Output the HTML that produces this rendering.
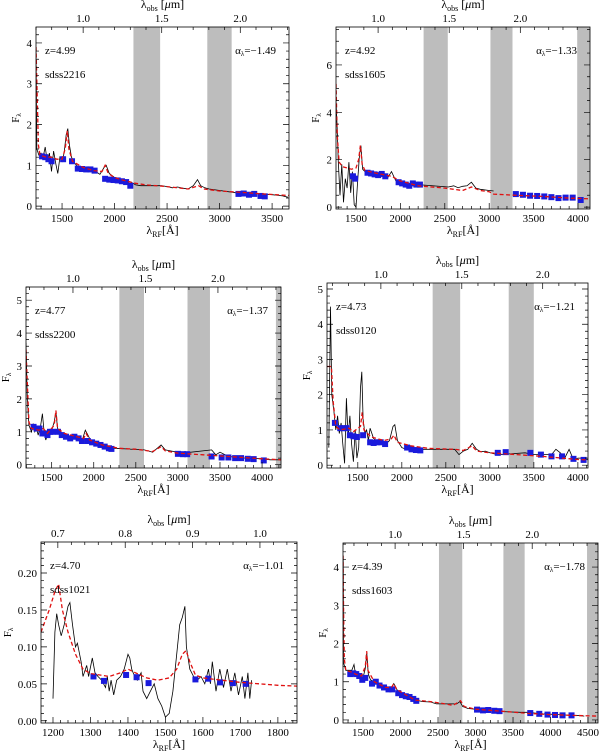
<!DOCTYPE html>
<html><head><meta charset="utf-8"><style>
html,body{margin:0;padding:0;background:#fff;}
svg{display:block;font-family:"Liberation Serif","DejaVu Serif",serif;}
</style></head><body>
<svg id="fig" width="600" height="753" viewBox="0 0 600 753" xmlns="http://www.w3.org/2000/svg"></svg>
<script>
// ---------- data (rest wavelength Å, flux) ----------
const p1Spec=[[1252,3.9],[1260,1.4],[1280,1.25],[1300,1.3],[1320,1.2],[1340,1.45],[1360,1.1],[1380,1.3],[1400,0.85],[1420,1.35],[1440,1.05],[1460,0.8],[1480,1.2],[1500,1.1],[1520,1.3],[1540,1.75],[1555,1.9],[1570,1.5],[1590,1.2],[1620,1.05],[1660,0.95],[1700,0.93],[1740,0.9],[1780,0.88],[1820,0.85],[1860,0.78],[1900,0.95],[1920,1.0],[1950,0.8],[2000,0.7],[2050,0.65],[2100,0.62],[2150,0.6],[2200,0.52],[2250,0.5],[2450,0.5],[2500,0.48],[2550,0.45],[2600,0.47],[2650,0.44],[2700,0.42],[2750,0.5],[2790,0.65],[2820,0.5],[2860,0.45],[2900,0.42],[3150,0.33],[3250,0.32],[3400,0.3],[3500,0.28],[3600,0.25],[3650,0.22]];
const p1Model=[[1252,3.9],[1262,2.8],[1275,1.5],[1290,1.25],[1350,1.2],[1400,1.2],[1450,1.15],[1500,1.15],[1530,1.4],[1550,1.85],[1565,1.4],[1600,1.1],[1700,0.95],[1800,0.87],[1880,0.85],[1910,1.0],[1940,0.8],[2000,0.7],[2100,0.62],[2200,0.56],[2300,0.52],[2400,0.5],[2500,0.48],[2600,0.45],[2700,0.42],[2800,0.5],[2850,0.42],[3000,0.37],[3200,0.34],[3400,0.3],[3600,0.27],[3660,0.26]];
const p1Phot=[[1310,1.22],[1340,1.2],[1370,1.15],[1400,1.1],[1510,1.15],[1595,1.1],[1650,0.92],[1690,0.91],[1730,0.9],[1770,0.9],[1810,0.87],[1910,0.67],[1950,0.65],[1990,0.64],[2030,0.63],[2070,0.61],[2110,0.59],[2150,0.5],[3180,0.3],[3230,0.31],[3280,0.28],[3330,0.3],[3390,0.25],[3430,0.24]];

const p2Spec=[[1275,4.5],[1290,3.2],[1300,2.0],[1320,0.5],[1340,1.8],[1360,0.2],[1380,1.2],[1400,0.8],[1420,1.9],[1440,0.6],[1460,1.5],[1480,0.1],[1500,0],[1520,1.2],[1540,2.2],[1555,2.6],[1575,1.6],[1600,1.5],[1650,1.4],[1700,1.5],[1750,1.3],[1800,1.4],[1850,1.2],[1900,1.5],[1950,1.1],[2000,1.0],[2050,1.05],[2100,0.95],[2150,1.0],[2200,0.95],[2540,0.85],[2600,0.9],[2650,0.82],[2700,0.88],[2750,0.9],[2800,1.05],[2850,0.8],[2900,0.75],[3000,0.7],[3050,0.68]];
const p2Model=[[1275,5.2],[1290,3.0],[1310,1.9],[1350,1.7],[1450,1.6],[1500,1.65],[1530,2.0],[1550,2.6],[1570,1.8],[1600,1.55],[1700,1.45],[1900,1.3],[2000,1.1],[2200,0.9],[2500,0.8],[2700,0.7],[2800,0.85],[2900,0.7],[3000,0.65],[3050,0.55],[3300,0.5],[3600,0.45],[3900,0.38],[4135,0.35]];
const p2Phot=[[1466,1.3],[1490,1.2],[1630,1.45],[1670,1.42],[1710,1.38],[1750,1.35],[1790,1.4],[1830,1.3],[1980,1.05],[2020,1.0],[2060,0.95],[2100,0.9],[2140,1.0],[2180,0.95],[2220,0.95],[3300,0.55],[3380,0.52],[3460,0.48],[3540,0.47],[3620,0.45],[3700,0.42],[3780,0.38],[3860,0.4],[3940,0.4],[4030,0.3]];

const p3Spec=[[1195,3.7],[1210,2.0],[1230,1.2],[1260,1.0],[1280,1.25],[1300,1.0],[1320,1.1],[1340,0.9],[1370,1.2],[1390,1.55],[1410,1.0],[1430,0.75],[1460,1.0],[1500,1.05],[1530,1.3],[1550,1.6],[1570,1.1],[1600,1.0],[1700,0.85],[1800,0.8],[1870,0.8],[1900,1.05],[1930,0.9],[1960,0.75],[2000,0.7],[2100,0.62],[2200,0.55],[2250,0.5],[2600,0.45],[2700,0.38],[2800,0.6],[2850,0.45],[2950,0.4],[3050,0.35],[3400,0.45],[3450,0.3],[3500,0.38],[3600,0.25],[3800,0.2],[4000,0.18],[4100,0.15],[4225,0.15]];
const p3Model=[[1195,3.5],[1210,2.5],[1230,1.3],[1260,1.1],[1350,1.05],[1400,1.1],[1450,0.95],[1530,1.2],[1550,1.65],[1570,1.1],[1650,0.95],[1800,0.85],[1880,0.8],[1910,0.95],[1950,0.75],[2100,0.6],[2300,0.5],[2500,0.47],[2700,0.4],[2800,0.55],[2850,0.42],[3000,0.35],[3300,0.3],[3600,0.25],[4000,0.18],[4225,0.15]];
const p3Phot=[[1285,1.15],[1320,1.1],[1355,1.1],[1390,0.95],[1420,0.95],[1450,0.9],[1480,1.0],[1510,1.0],[1575,1.0],[1620,0.9],[1670,0.85],[1720,0.8],[1770,0.85],[1820,0.8],[1860,0.72],[1930,0.72],[1980,0.68],[2030,0.64],[2080,0.6],[2130,0.55],[2180,0.5],[2210,0.48],[3000,0.33],[3060,0.32],[3110,0.32],[3400,0.25],[3520,0.22],[3600,0.22],[3680,0.2],[3750,0.2],[3830,0.18],[3900,0.17],[4020,0.13]];

const p4Spec=[[1170,0.5],[1190,4.5],[1205,2.0],[1230,1.5],[1250,1.0],[1270,1.4],[1290,0.9],[1310,1.2],[1330,0.6],[1350,0.05],[1370,1.9],[1390,0.8],[1410,1.4],[1430,0.6],[1450,0.1],[1470,1.0],[1490,0.2],[1510,0.5],[1530,2.2],[1545,2.65],[1560,1.3],[1580,0.9],[1600,1.0],[1620,0.7],[1640,1.05],[1680,0.75],[1750,0.65],[1820,0.6],[1860,0.7],[1900,1.1],[1920,1.15],[1950,0.7],[2000,0.5],[2050,0.45],[2100,0.55],[2150,0.45],[2200,0.4],[2250,0.45],[2300,0.45],[2600,0.45],[2650,0.3],[2700,0.4],[2750,0.45],[2800,0.62],[2850,0.45],[2900,0.38],[2950,0.4],[3000,0.35],[3050,0.32],[3100,0.3],[3400,0.35],[3500,0.3],[3600,0.3],[3700,0.3],[3750,0.45],[3800,0.35],[3850,0.2],[3900,0.45],[3950,0.15],[4000,0.2],[4050,0.2],[4115,0.15]];
const p4Model=[[1150,2.8],[1200,2.8],[1220,1.8],[1250,1.1],[1300,1.0],[1400,1.05],[1450,0.95],[1530,1.1],[1550,1.5],[1570,1.0],[1650,0.8],[1800,0.7],[1880,0.75],[1910,0.85],[1950,0.65],[2100,0.55],[2300,0.48],[2600,0.45],[2700,0.42],[2800,0.55],[2850,0.4],[3000,0.35],[3300,0.3],[3600,0.25],[4000,0.16],[4115,0.15]];
const p4Phot=[[1240,1.2],[1300,1.05],[1340,1.05],[1375,1.05],[1410,0.85],[1450,0.82],[1490,0.8],[1560,0.85],[1640,0.65],[1680,0.63],[1720,0.65],[1760,0.65],[1810,0.6],[2060,0.5],[2110,0.45],[2160,0.43],[2210,0.42],[3090,0.35],[3180,0.37],[3460,0.35],[3580,0.3],[3700,0.25],[3820,0.25],[3950,0.18],[4065,0.15]];

const p5Spec=[[1200,0.03],[1205,0.12],[1210,0.145],[1215,0.13],[1222,0.115],[1230,0.13],[1240,0.155],[1245,0.16],[1252,0.13],[1260,0.1],[1265,0.105],[1275,0.08],[1280,0.06],[1290,0.075],[1295,0.06],[1305,0.085],[1312,0.065],[1320,0.06],[1330,0.055],[1340,0.045],[1345,0.06],[1350,0.04],[1355,0.055],[1362,0.035],[1370,0.055],[1380,0.06],[1390,0.07],[1400,0.09],[1405,0.085],[1410,0.07],[1418,0.06],[1425,0.055],[1435,0.065],[1440,0.04],[1450,0.03],[1460,0.04],[1470,0.05],[1480,0.03],[1490,0.02],[1500,0.005],[1510,0.01],[1520,0.04],[1530,0.09],[1538,0.13],[1545,0.14],[1552,0.155],[1556,0.1],[1565,0.07],[1575,0.06],[1585,0.055],[1595,0.06],[1605,0.05],[1615,0.07],[1620,0.05],[1625,0.08],[1635,0.04],[1645,0.07],[1655,0.045],[1665,0.07],[1675,0.04],[1685,0.065],[1695,0.035],[1705,0.06],[1712,0.03],[1720,0.065],[1725,0.03],[1730,0.055]];
const p5Model=[[1168,0.12],[1190,0.15],[1205,0.175],[1215,0.185],[1225,0.15],[1240,0.12],[1260,0.09],[1280,0.07],[1300,0.064],[1350,0.06],[1380,0.065],[1400,0.07],[1420,0.065],[1450,0.058],[1480,0.055],[1510,0.058],[1530,0.07],[1545,0.09],[1555,0.095],[1565,0.08],[1580,0.062],[1600,0.058],[1650,0.055],[1700,0.052],[1750,0.05],[1800,0.048],[1851,0.047]];
const p5Phot=[[1308,0.06],[1336,0.054],[1395,0.062],[1423,0.059],[1455,0.051],[1580,0.056],[1614,0.057],[1646,0.052],[1680,0.051],[1714,0.05]];

const p6Spec=[[1236,4.3],[1240,1.5],[1255,1.4],[1270,1.3],[1300,1.3],[1350,1.3],[1380,1.45],[1400,1.2],[1450,1.15],[1500,1.1],[1530,1.35],[1550,1.75],[1570,1.2],[1600,1.05],[1700,0.95],[1800,0.82],[1880,0.85],[1910,0.95],[1950,0.8],[2000,0.65],[2100,0.6],[2200,0.52],[2300,0.48],[2400,0.47],[2480,0.42],[2750,0.42],[2790,0.48],[2830,0.35],[2900,0.3],[3000,0.28],[3100,0.26],[3200,0.25],[3300,0.22],[3600,0.2],[3700,0.2],[3800,0.18],[3900,0.16],[4000,0.15],[4100,0.14],[4200,0.13],[4300,0.12],[4400,0.11],[4450,0.1]];
const p6Model=[[1233,4.3],[1240,3.0],[1250,1.6],[1270,1.3],[1350,1.25],[1400,1.2],[1480,1.15],[1530,1.4],[1549,1.8],[1565,1.3],[1650,1.0],[1800,0.85],[1880,0.85],[1910,0.95],[1950,0.8],[2100,0.62],[2200,0.52],[2400,0.48],[2600,0.42],[2700,0.38],[2800,0.5],[2850,0.35],[3000,0.28],[3400,0.22],[3700,0.17],[4000,0.14],[4300,0.12],[4633,0.1]];
const p6Phot=[[1330,1.2],[1370,1.22],[1410,1.2],[1450,1.15],[1490,1.05],[1530,1.1],[1620,0.95],[1670,1.0],[1720,0.9],[1780,0.85],[1840,0.8],[1890,0.8],[1970,0.7],[2020,0.65],[2070,0.62],[2120,0.6],[2170,0.55],[2210,0.5],[3020,0.27],[3100,0.25],[3170,0.26],[3250,0.24],[3320,0.23],[3730,0.18],[3850,0.16],[3960,0.14],[4060,0.13],[4160,0.12],[4280,0.12]];

// atmospheric bands in observed microns
const bandsObs=[[1.32,1.49],[1.79,1.945],[2.40,3.0]];
const redshifts=["4.99","4.92","4.77","4.73","4.70","4.39"];
const objNames=["sdss2216","sdss1605","sdss2200","sdss0120","sdss1021","sdss1603"];
const alphas=["\u22121.49","\u22121.33","\u22121.37","\u22121.21","\u22121.01","\u22121.78"];

const panels=[
 {id:1,box:[36,27,289,209],x:[1252,3661],y:[-0.07,4.39],o:[0.70,2.31],yt:[0,1,2,3,4],ym:0.2,yf:0,xt:500,xm:100,ot:0.5,om:0.1,of:1,spec:p1Spec,model:p1Model,phot:p1Phot},
 {id:2,box:[336,27,590,209],x:[1275,4135],y:[-0.08,7.6],o:[0.704,2.49],yt:[0,2,4,6],ym:0.5,yf:0,xt:500,xm:100,ot:0.5,om:0.1,of:1,spec:p2Spec,model:p2Model,phot:p2Phot},
 {id:3,box:[26,287,281,468],x:[1195,4225],y:[-0.1,5.4],o:[0.676,2.435],yt:[0,1,2,3,4,5],ym:0.2,yf:0,xt:500,xm:100,ot:0.5,om:0.1,of:1,spec:p3Spec,model:p3Model,phot:p3Phot},
 {id:4,box:[327,283,588,468],x:[1150,4115],y:[-0.08,5.17],o:[0.667,2.28],yt:[0,1,2,3,4,5],ym:0.2,yf:0,xt:500,xm:100,ot:0.5,om:0.1,of:1,spec:p4Spec,model:p4Model,phot:p4Phot},
 {id:5,box:[41,542,297,723],x:[1168,1851],y:[-0.003,0.242],o:[0.675,1.055],yt:[0,0.05,0.10,0.15,0.20],ym:0.01,yf:2,xt:100,xm:20,ot:0.1,om:0.02,of:1,spec:p5Spec,model:p5Model,phot:p5Phot,nobands:true},
 {id:6,box:[343,543,598,723],x:[1233,4633],y:[-0.08,4.63],o:[0.62,2.48],yt:[0,1,2,3,4],ym:0.2,yf:0,xt:500,xm:100,ot:0.5,om:0.1,of:1,spec:p6Spec,model:p6Model,phot:p6Phot}
];

const NS="http://www.w3.org/2000/svg";
const svg=document.getElementById('fig');
function mk(tag,attrs,parent){const e=document.createElementNS(NS,tag);for(const k in attrs)e.setAttribute(k,attrs[k]);(parent||svg).appendChild(e);return e;}

panels.forEach((p,i)=>{
 const [x0,y0,x1,y1]=p.box;
 const g=mk('g',{});
 
 
 const sx=v=>x0+(v-p.x[0])/(p.x[1]-p.x[0])*(x1-x0);
 const sy=v=>y1-(v-p.y[0])/(p.y[1]-p.y[0])*(y1-y0);
 const so=v=>x0+(v-p.o[0])/(p.o[1]-p.o[0])*(x1-x0);
 const cp=mk('clipPath',{id:'cp'+p.id},g);
 mk('rect',{x:x0,y:y0,width:x1-x0,height:y1-y0},cp);
 // bands
 if(!p.nobands) bandsObs.forEach((b,k)=>{
   const a=Math.max(so(b[0]),x0),c=Math.min(so(b[1]),x1);
   if(c>a){const r=mk('rect',{x:a,y:y0,width:c-a,height:y1-y0,fill:'#bdbdbd'},g);
   
   }
 });
 const dg=mk('g',{'clip-path':'url(#cp'+p.id+')'},g);
 // spectrum
 const ps=mk('polyline',{points:p.spec.map(d=>sx(d[0]).toFixed(1)+','+sy(d[1]).toFixed(1)).join(' '),fill:'none',stroke:'#000','stroke-width':0.8},dg);
 
 
 // photometry
 p.phot.forEach(d=>{
   const r=mk('rect',{x:sx(d[0])-3,y:sy(d[1])-3,width:6,height:6,fill:'#1a1adc'},dg);
   
   
 });
 // model
 const pm=mk('polyline',{points:p.model.map(d=>sx(d[0]).toFixed(1)+','+sy(d[1]).toFixed(1)).join(' '),fill:'none',stroke:'#e01010','stroke-width':1.3,'stroke-dasharray':'4,2.5'},dg);
 
 
 // frame
 mk('rect',{x:x0,y:y0,width:x1-x0,height:y1-y0,fill:'none',stroke:'#000','stroke-width':0.8},g);
 let tk='';
 // bottom x ticks
 const eps=1e-6;
 for(let v=Math.ceil(p.x[0]/p.xm)*p.xm; v<=p.x[1]; v+=p.xm){
   const X=sx(v); const maj=Math.abs(v/p.xt-Math.round(v/p.xt))<eps; const L=maj?6:3;
   tk+=`M${X},${y1}v${-L}`;
   if(maj){const t=mk('text',{x:X,y:y1+13,'text-anchor':'middle','font-size':11},g);t.textContent=v;
     }
 }
 // top obs ticks
 for(let v=Math.ceil(p.o[0]/p.om-eps)*p.om; v<=p.o[1]+eps; v+=p.om){
   const X=so(v); const maj=Math.abs(v/p.ot-Math.round(v/p.ot))<1e-4; const L=maj?6:3;
   tk+=`M${X},${y0}v${L}`;
   if(maj){const t=mk('text',{x:X,y:y0-5,'text-anchor':'middle','font-size':11},g);t.textContent=v.toFixed(p.of);
     }
 }
 // y ticks
 for(let v=Math.ceil(p.y[0]/p.ym-eps)*p.ym; v<=p.y[1]+eps; v+=p.ym){
   const Y=sy(v); const maj=p.yt.some(t=>Math.abs(t-v)<p.ym/10); const L=maj?6:3;
   tk+=`M${x0},${Y}h${L}M${x1},${Y}h${-L}`;
 }
 p.yt.forEach(v=>{const t=mk('text',{x:x0-4,y:sy(v)+4,'text-anchor':'end','font-size':11},g);t.textContent=v.toFixed(p.yf);
   });
 mk('path',{d:tk,stroke:'#000','stroke-width':0.7,fill:'none'},g);
 const cx=(x0+x1)/2;
 const ot=mk('text',{x:cx,y:y0-19,'text-anchor':'middle','font-size':12},g);
 ot.innerHTML='λ<tspan font-size="8" dy="3">obs</tspan><tspan dy="-3"> [</tspan><tspan font-style="italic">μ</tspan>m]';
 
 const xt=mk('text',{x:cx,y:y1+25,'text-anchor':'middle','font-size':12},g);
 xt.innerHTML='λ<tspan font-size="8" dy="3">RF</tspan><tspan dy="-3">[Å]</tspan>';
 
 const yt=mk('text',{x:0,y:0,'text-anchor':'middle','font-size':11,transform:`translate(${x0-(p.yf?30:17)},${(y0+y1)/2}) rotate(-90)`},g);
 yt.innerHTML='F<tspan font-size="7" dy="2">λ</tspan>';
 
 const zt=mk('text',{x:x0+9,y:y0+27,'font-size':11},g);zt.textContent='z='+redshifts[i];
 
 const nt=mk('text',{x:x0+9,y:y0+51,'font-size':11},g);nt.textContent=objNames[i];
 
 const at=mk('text',{x:x1-13,y:y0+27,'text-anchor':'end','font-size':11},g);
 at.innerHTML='α<tspan font-size="7" dy="2">λ</tspan><tspan dy="-2">=</tspan>'+alphas[i];
 
});
</script>
</body></html>
